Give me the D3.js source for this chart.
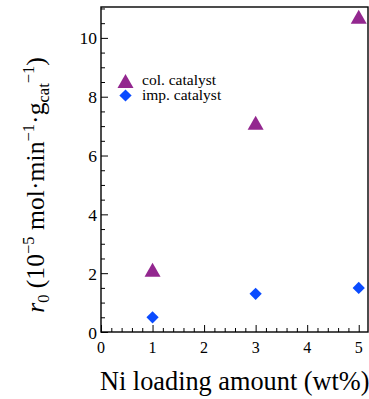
<!DOCTYPE html>
<html lang="en">
<head>
<meta charset="UTF-8">
<script src="https://cdn.jsdelivr.net/npm/d3@7"></script>
<style>
  body { margin: 0; background: #fff; }
</style>
</head>
<body>
<script>
var loading = [1, 3, 5];
var colRates = [2.1, 7.1, 10.7];
var impRates = [0.5, 1.3, 1.5];
var xTicks = [0, 1, 2, 3, 4, 5];
var yTicks = [0, 2, 4, 6, 8, 10];

var w = 369, h = 399;
var mLeft = 101, mRight = 368, mTop = 7, mBottom = 332;
var serif = 'Liberation Serif';

var svg = d3.select('body').append('svg')
  .attr('width', w).attr('height', h);

var x = d3.scaleLinear().domain([0, 5.18]).range([mLeft, mRight]);
var y = d3.scaleLinear().domain([0, 11.05]).range([mBottom, mTop]);

// frame
svg.append('rect')
  .attr('x', mLeft).attr('y', mTop)
  .attr('width', mRight - mLeft).attr('height', mBottom - mTop)
  .attr('fill', 'none').attr('stroke', '#000').attr('stroke-width', 1.4);

// x axis, ticks inward
var xAxis = svg.append('g').attr('transform', 'translate(0,' + mBottom + ')');
xAxis.call(d3.axisBottom(x).tickValues(d3.range(0, 5.01, 0.2)).tickSize(-4).tickFormat(''));
xAxis.call(g => g.select('.domain').remove());
xAxis.selectAll('.tick')
  .filter(d => Math.abs(d - Math.round(d)) < 1e-6)
  .select('line').attr('y2', -7);
xAxis.selectAll('line').attr('stroke-width', 1);
svg.selectAll('.xlab').data(xTicks).enter().append('text')
  .attr('font-family', serif)
  .attr('x', d => x(d)).attr('y', mBottom + 21)
  .attr('text-anchor', 'middle').attr('font-size', 16).text(d => d);

// y axis, ticks inward
var yAxis = svg.append('g').attr('transform', 'translate(' + mLeft + ',0)');
yAxis.call(d3.axisLeft(y).tickValues(d3.range(0, 11.01, 0.5)).tickSize(-4).tickFormat(''));
yAxis.call(g => g.select('.domain').remove());
yAxis.selectAll('.tick')
  .filter(d => Math.abs(d / 2 - Math.round(d / 2)) < 1e-6)
  .select('line').attr('x2', 7);
yAxis.selectAll('line').attr('stroke-width', 1);
svg.selectAll('.ylab').data(yTicks).enter().append('text')
  .attr('font-family', serif)
  .attr('x', mLeft - 4).attr('y', d => y(d) + 6.5)
  .attr('text-anchor', 'end').attr('font-size', 17.5).text(d => d);

// triangle centred on its box, like the source plot
var tri = 'M0,-7.5L8,6.5L-8,6.5Z';
var dia = d3.symbol().type(d3.symbolSquare).size(75);

svg.selectAll('.col').data(loading).enter().append('path')
  .attr('d', tri)
  .attr('transform', (d, i) => 'translate(' + x(d) + ',' + y(colRates[i]) + ')')
  .attr('fill', '#93278f');

svg.selectAll('.imp').data(loading).enter().append('path')
  .attr('d', dia)
  .attr('transform', (d, i) => 'translate(' + x(d) + ',' + y(impRates[i]) + ') rotate(45)')
  .attr('fill', '#0a4bff');

// legend
svg.append('path').attr('d', tri).attr('transform', 'translate(125.5,81.5)').attr('fill', '#93278f');
svg.append('path').attr('d', dia).attr('transform', 'translate(125.5,95.5) rotate(45)').attr('fill', '#0a4bff');
svg.append('text').attr('font-family', serif).attr('x', 142).attr('y', 84.5).attr('font-size', 15.5).text('col. catalyst');
svg.append('text').attr('font-family', serif).attr('x', 142).attr('y', 100).attr('font-size', 15.5).text('imp. catalyst');

// x title
svg.append('text').attr('font-family', serif).attr('x', 100).attr('y', 390).attr('font-size', 26.3)
  .text('Ni loading amount (wt%)');

// y title
var yt = svg.append('text').attr('font-family', serif)
  .attr('transform', 'translate(44,185) rotate(-90)')
  .attr('text-anchor', 'middle').attr('font-size', 25.7);
yt.append('tspan').attr('font-style', 'italic').text('r');
yt.append('tspan').attr('font-size', 16.5).attr('dy', 5).text('0');
yt.append('tspan').attr('dy', -5).text(' (10');
yt.append('tspan').attr('font-size', 16.5).attr('dy', -10).text('\u22125');
yt.append('tspan').attr('dy', 10).text(' mol\u00b7min');
yt.append('tspan').attr('font-size', 16.5).attr('dy', -10).text('\u22121');
yt.append('tspan').attr('dy', 10).text('\u00b7g');
yt.append('tspan').attr('font-size', 16.5).attr('dy', 5).text('cat');
yt.append('tspan').attr('font-size', 16.5).attr('dy', -15).text('\u22121');
yt.append('tspan').attr('dy', 10).text(')');
</script>
</body>
</html>
